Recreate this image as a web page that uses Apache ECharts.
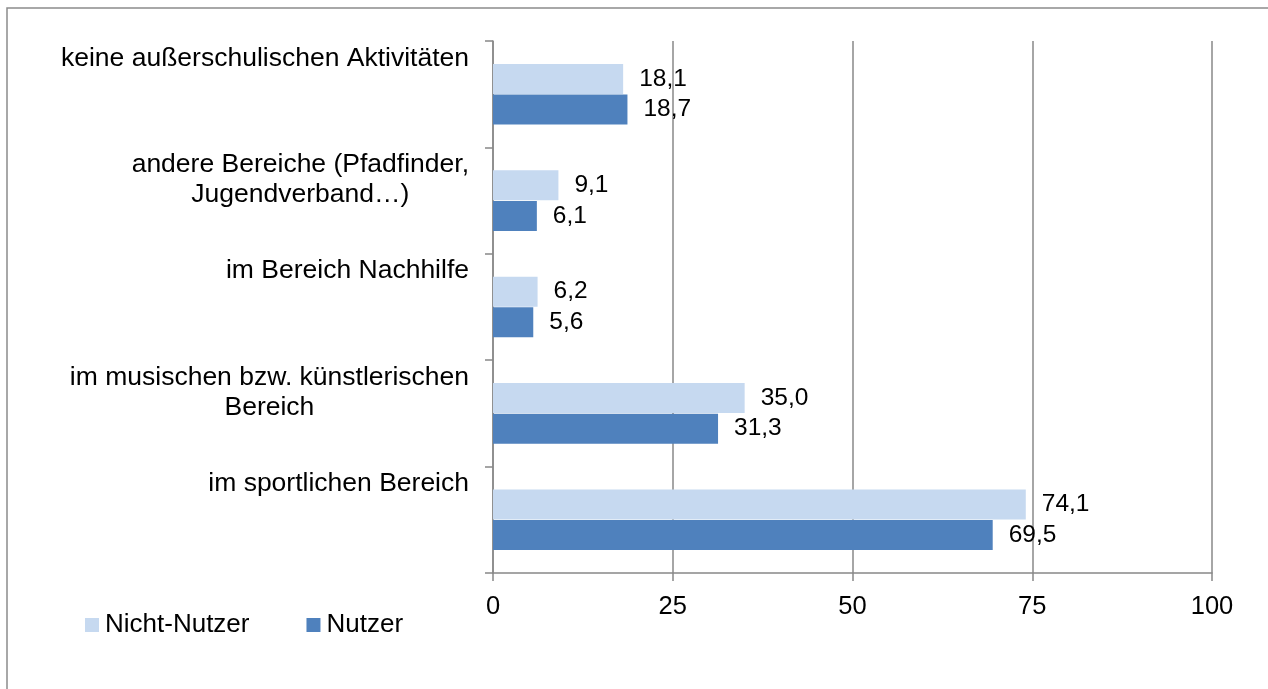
<!DOCTYPE html>
<html>
<head>
<meta charset="utf-8">
<script src="https://cdn.jsdelivr.net/npm/echarts@6/dist/echarts.min.js"></script>
<style>
html,body{margin:0;padding:0;background:#fff;}
#chart{width:1268px;height:689px;}
</style>
</head>
<body>
<div id="chart"></div>
<script>
// Data (bottom to top as drawn on the category axis)
var categories = [
  'im sportlichen Bereich',
  'im musischen bzw. künstlerischen\nBereich',
  'im Bereich Nachhilfe',
  'andere Bereiche (Pfadfinder,\nJugendverband…)',
  'keine außerschulischen Aktivitäten'
];
var nichtNutzer = [74.1, 35.0, 6.2, 9.1, 18.1];
var nutzer = [69.5, 31.3, 5.6, 6.1, 18.7];
var seriesNames = ['Nicht-Nutzer', 'Nutzer'];
var xTicks = [0, 25, 50, 75, 100];

var FONT = '"Liberation Sans", Arial, sans-serif';
var GRAY = '#888888';

var chart = echarts.init(document.getElementById('chart'), null, {renderer: 'canvas'});

function fmtLabel(v) {
  var lines = v.split('\n');
  while (lines.length < 2) lines.push(' ');
  return lines.map(function (l) { return '{c|' + l + '}'; }).join('\n');
}
function fmtVal(p) {
  return p.value.toFixed(1).replace('.', ',');
}

var option = {
  animation: false,
  backgroundColor: '#ffffff',
  graphic: [{
    type: 'rect',
    shape: {x: 7, y: 8, width: 1400, height: 800},
    style: {fill: 'none', stroke: '#8c8c8c', lineWidth: 1.5},
    silent: true,
    z: 100
  }],
  legend: {
    data: seriesNames,
    left: 85,
    top: 611,
    padding: 0,
    itemWidth: 14,
    itemHeight: 14,
    itemGap: 57,
    icon: 'rect',
    textStyle: {fontFamily: FONT, fontSize: 26, color: '#000', lineHeight: 28, padding: [0, 0, 0, 1]}
  },
  grid: {left: 493, right: 56, top: 41, bottom: 116, containLabel: false},
  xAxis: {
    type: 'value',
    min: 0,
    max: 100,
    interval: 25,
    axisLine: {show: true, lineStyle: {color: GRAY, width: 1.5}},
    axisTick: {show: true, length: 8, lineStyle: {color: GRAY, width: 1.5}},
    splitLine: {show: true, lineStyle: {color: GRAY, width: 1.5}},
    axisLabel: {
      margin: 21,
      fontFamily: FONT, fontSize: 25.5, color: '#000',
      formatter: function (v) { return xTicks.indexOf(v) >= 0 ? String(v) : ''; }
    }
  },
  yAxis: {
    type: 'category',
    data: categories,
    axisLine: {show: true, lineStyle: {color: GRAY, width: 1.5}},
    axisTick: {show: true, length: 8, lineStyle: {color: GRAY, width: 1.5}},
    axisLabel: {
      interval: 0,
      margin: 24,
      align: 'right',
      verticalAlign: 'middle',
      padding: [0, 0, 42, 0],
      formatter: fmtLabel,
      rich: {
        c: {fontFamily: FONT, fontSize: 26.5, color: '#000', lineHeight: 30, align: 'center'}
      }
    }
  },
  series: [
    {
      name: seriesNames[0],
      type: 'bar',
      data: nichtNutzer,
      barWidth: 30,
      barGap: '2%',
      itemStyle: {color: '#C6D9F0'},
      label: {show: true, position: 'right', distance: 16, fontFamily: FONT, fontSize: 24.5, color: '#000', formatter: fmtVal}
    },
    {
      name: seriesNames[1],
      type: 'bar',
      data: nutzer,
      barWidth: 30,
      barGap: '2%',
      itemStyle: {color: '#4F81BD'},
      label: {show: true, position: 'right', distance: 16, fontFamily: FONT, fontSize: 24.5, color: '#000', formatter: fmtVal}
    }
  ]
};
chart.setOption(option);
</script>
</body>
</html>
